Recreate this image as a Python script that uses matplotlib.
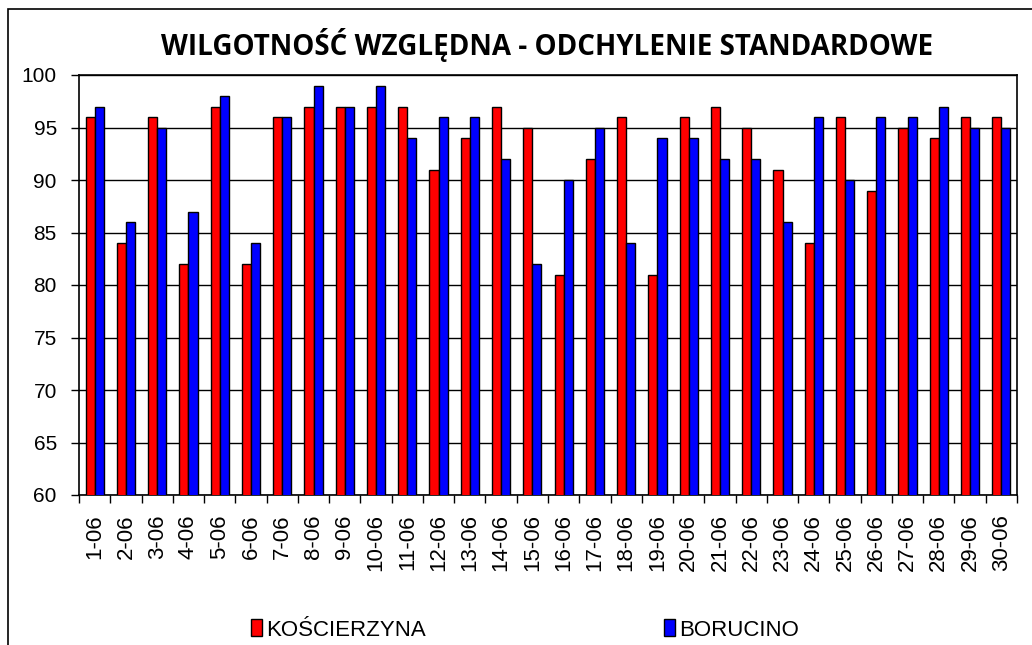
import numpy as np
import matplotlib.pyplot as plt
from matplotlib.patches import Rectangle

days = [f"{i}-06" for i in range(1, 31)]
koscierzyna = [96, 84, 96, 82, 97, 82, 96, 97, 97, 97, 97, 91, 94, 97, 95,
               81, 92, 96, 81, 96, 97, 95, 91, 84, 96, 89, 95, 94, 96, 96]
borucino = [97, 86, 95, 87, 98, 84, 96, 99, 97, 99, 94, 96, 96, 92, 82,
            90, 95, 84, 94, 94, 92, 92, 86, 96, 90, 96, 96, 97, 95, 95]

plt.rcParams['font.family'] = ['Liberation Sans', 'DejaVu Sans']

fig = plt.figure(figsize=(10.32, 6.45), dpi=100)
ax = fig.add_axes([79 / 1032, 1 - 495 / 645, 938 / 1032, 420 / 645])

# border round the chart area
fig.patches.append(Rectangle((8 / 1032, -0.1), 1.2, 1 - 9 / 645 + 0.1,
                             transform=fig.transFigure, fill=False,
                             edgecolor='black', linewidth=1.2))

x = np.arange(len(days))
w = 0.29
ax.bar(x - w / 2, koscierzyna, w, color='#ff0000', edgecolor='black',
       linewidth=1, label='KOŚCIERZYNA', zorder=3)
ax.bar(x + w / 2, borucino, w, color='#0000ff', edgecolor='black',
       linewidth=1, label='BORUCINO', zorder=3)

ax.set_ylim(60, 100)
ax.set_xlim(-0.5, len(days) - 0.5)
ax.set_yticks(range(60, 101, 5))
ax.tick_params(axis='y', labelsize=15, length=6, width=1, pad=10)
ax.set_xticks(x)
ax.set_xticklabels(days, rotation=90, fontsize=16)
ax.tick_params(axis='x', length=0, pad=14)
ax.set_xticks(np.arange(-0.5, len(days), 1), minor=True)
ax.tick_params(axis='x', which='minor', length=6, width=1)
ax.grid(axis='y', color='black', linewidth=1, zorder=0)
for s in ax.spines.values():
    s.set_linewidth(1.2)

fig.text(547 / 1032, 1 - 45 / 645, 'WILGOTNOŚĆ WZGLĘDNA - ODCHYLENIE STANDARDOWE',
         ha='center', va='center', fontsize=20, fontweight='bold',
         family='Open Sans')

fig.legend(loc='center', bbox_to_anchor=(525 / 1032, 1 - 630 / 645), ncol=2,
           frameon=False, fontsize=16, handlelength=0.5, handleheight=0.8,
           handletextpad=0.2, columnspacing=10.7)

fig.savefig('out.png', dpi=100)
